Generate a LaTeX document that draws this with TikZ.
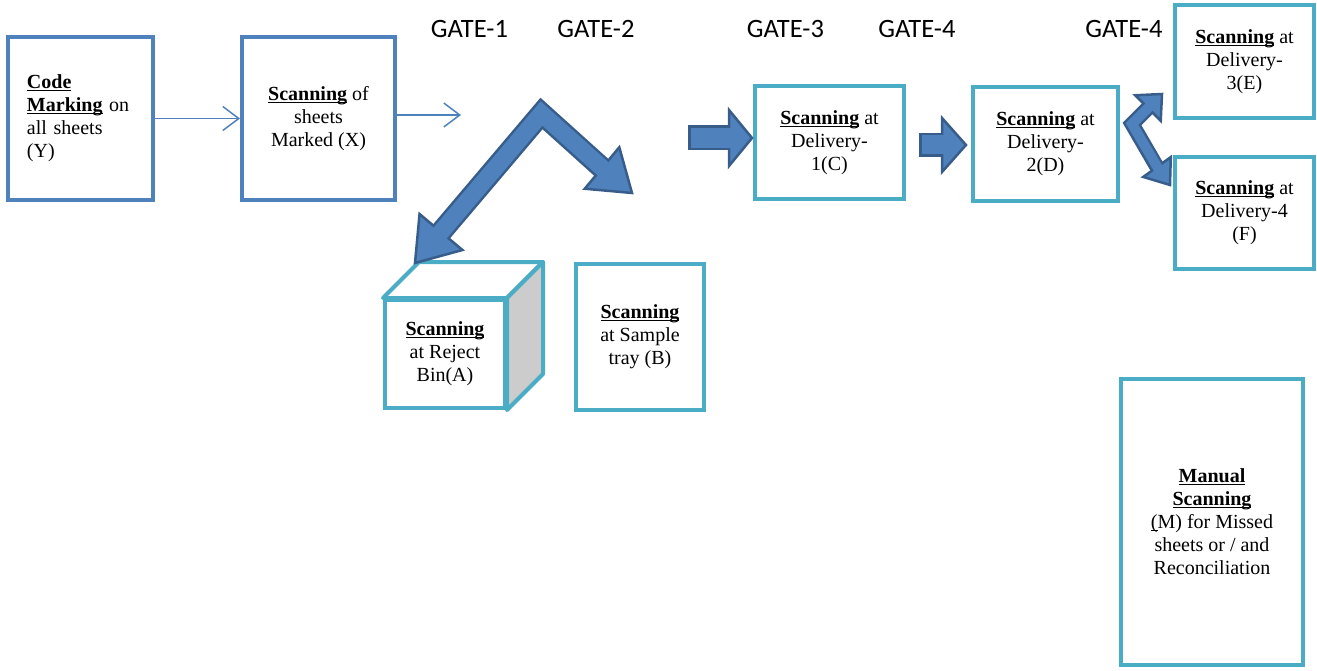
\documentclass[tikz,border=0pt]{standalone}
\usepackage{fontspec}
\setmainfont{Liberation Serif}
\newfontfamily\gatefont{Carlito}
\usepackage{tikz}
\usetikzlibrary{calc,arrows.meta}

\definecolor{boxblue}{RGB}{79,129,189}
\definecolor{boxteal}{RGB}{75,172,198}
\definecolor{arrowedge}{RGB}{56,93,138}
\definecolor{cubegray}{RGB}{204,204,204}

\tikzset{
  stage/.style={draw=boxteal, line width=4pt, fill=white, align=center, inner sep=0pt,
    font=\fontsize{20}{23}\selectfont},
  markbox/.style={stage, draw=boxblue},
  cubeside/.style={draw=boxteal, line width=4pt, line join=round},
  gate/.style={anchor=base, font=\gatefont\fontsize{26.5}{30}\selectfont},
  thinarrow/.style={draw=boxblue, line width=1.5pt, -{Straight Barb[length=16pt,width=24pt]}},
  shaftout/.style={draw=arrowedge, line join=miter, line width=#1},
  shaftin/.style={draw=boxblue, line join=miter, line width=#1},
  headfill/.style={fill=boxblue, draw=arrowedge, line width=2.5pt, line join=miter},
}
\newsavebox{\ulsave}
\newcommand{\ulbox}[1]{\leavevmode\sbox{\ulsave}{#1}\rlap{\rule[-2.6pt]{\wd\ulsave}{1.4pt}}\usebox{\ulsave}}
\newcommand{\uword}[1]{\ulbox{\textbf{#1}}}
\newcommand{\blockhead}[3]{\filldraw[headfill] ($(#1)!#3!90:(#2)$) -- (#2) -- ($(#1)!#3!-90:(#2)$) -- cycle;}

\begin{document}
\begin{tikzpicture}[x=1pt,y=-1pt]
\useasboundingbox (0,0) rectangle (1317,671);

% marking and first scan
\node[markbox, text width=107pt, align=left, minimum width=145pt, minimum height=163pt] (Y) at (80.5,118.5)
  {\uword{Code}\\ \uword{Marking} on\\ all sheets\\ (Y)};
\node[markbox, minimum width=153pt, minimum height=163pt] (X) at (318.5,118.5)
  {\uword{Scanning} of\\ sheets\\ Marked (X)};
\coordinate (xout) at (461,115);
\draw[thinarrow] (Y) -- (X);
\draw[thinarrow] (X.east |- xout) -- (xout);

% gates
\node[gate] (gate1) at (469.5,38) {GATE-1};
\node[gate] (gate2) at (596,38) {GATE-2};
\node[gate] (gate3) at (785.5,38) {GATE-3};
\node[gate] (gate4) at (917,38) {GATE-4};
\node[gate] (gate4b) at (1124,38) {GATE-4};

% reject bin (cube) and sample tray
\node[stage, minimum width=120pt, minimum height=108pt] (A) at (445,354)
  {\uword{Scanning}\\ at Reject\\ Bin(A)};
\filldraw[cubeside, fill=white] (A.north west) -- ++(36,-36) -- ($(A.north east)+(36,-36)$) -- (A.north east) -- cycle;
\filldraw[cubeside, fill=cubegray] (A.north east) -- ++(36,-36) -- ($(A.south east)+(36,-36)$) -- (A.south east) -- cycle;
\node[stage, minimum width=128pt, minimum height=146pt] (B) at (640,337)
  {\uword{Scanning}\\ at Sample\\ tray (B)};

% deliveries
\node[stage, minimum width=149pt, minimum height=113pt] (C) at (829.5,142.5)
  {\uword{Scanning} at\\ Delivery-\\ 1(C)};
\node[stage, minimum width=145pt, minimum height=114pt] (D) at (1045.5,144)
  {\uword{Scanning} at\\ Delivery-\\ 2(D)};
\node[stage, minimum width=139pt, minimum height=113pt] (E) at (1244.5,61.5)
  {\uword{Scanning} at\\ Delivery-\\ 3(E)};
\node[stage, minimum width=139pt, minimum height=112pt] (F) at (1244.5,213)
  {\uword{Scanning} at\\ Delivery-4\\ (F)};
\node[stage, minimum width=182pt, minimum height=286pt] (M) at (1212,522)
  {\uword{Manual}\\ \uword{Scanning}\\ \ulbox{(}M) for Missed\\ sheets or / and\\ Reconciliation};

% bent arrow to reject bin and sample tray
\coordinate (bendtop) at (541.5,113.5);
\coordinate (rejbase) at (441,232);
\coordinate (rejtip) at (415,263);
\coordinate (samplebase) at (602,168);
\coordinate (sampletip) at (632,193);
\draw[shaftout=22pt] (rejbase) -- (bendtop) -- (samplebase);
\blockhead{rejbase}{rejtip}{28pt}
\blockhead{samplebase}{sampletip}{27pt}
\draw[shaftin=17pt] ($(rejbase)!3pt!(rejtip)$) -- (bendtop) -- ($(samplebase)!3pt!(sampletip)$);

% block arrows to delivery 1 and 2
\coordinate (cstart) at (688,138);
\coordinate (cbase) at (729,138);
\coordinate (ctip) at (752,138);
\draw[shaftout=25pt] (cstart) -- (cbase);
\blockhead{cbase}{ctip}{28pt}
\draw[shaftin=20pt] ($(cstart)!2.5pt!(cbase)$) -- ($(cbase)!3pt!(ctip)$);

\coordinate (dstart) at (919,145);
\coordinate (dbase) at (942,145);
\coordinate (dtip) at (966,145);
\draw[shaftout=24pt] (dstart) -- (dbase);
\blockhead{dbase}{dtip}{27pt}
\draw[shaftin=19pt] ($(dstart)!2.5pt!(dbase)$) -- ($(dbase)!3pt!(dtip)$);

% fork to delivery 3 and 4
\coordinate (forktop) at (1132,124);
\coordinate (ebase) at (1148,108);
\coordinate (etip) at (1162,94);
\coordinate (fbase) at (1157,167);
\coordinate (ftip) at (1170,185);
\draw[shaftout=15pt] (ebase) -- (forktop) -- (fbase);
\blockhead{ebase}{etip}{18pt}
\blockhead{fbase}{ftip}{17pt}
\draw[shaftin=10pt] ($(ebase)!3pt!(etip)$) -- (forktop) -- ($(fbase)!3pt!(ftip)$);

\end{tikzpicture}
\end{document}
